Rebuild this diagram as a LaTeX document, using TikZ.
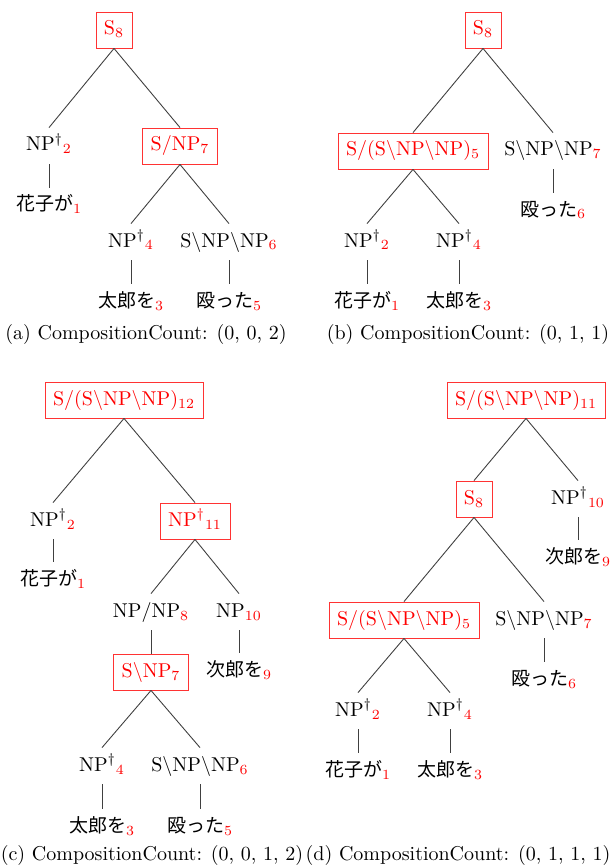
\documentclass[tikz,border=0pt]{standalone}
\usepackage{fontspec}
\newfontfamily\jpfont{Noto Sans CJK JP}[Scale=0.95]
\newcommand\rsub[1]{$_{\textcolor{red}{#1}}$}
\newcommand\npdag{NP$^{\dagger}{}$}
\newcommand\bsl{$\backslash$}
\begin{document}
\begin{tikzpicture}[x=0.5pt,y=-0.5pt,
  nd/.style={inner sep=4pt, text height=7.5pt, text depth=2.5pt},
  bx/.style={nd, draw=red!80, line width=0.45pt, text=red},
  jp/.style={nd, font=\jpfont},
  ed/.style={draw=black!75, line width=0.45pt},
  captxt/.style={inner sep=0pt}]
\useasboundingbox (0,0) rectangle (611,866);
% ---------------- (a)
\node[bx] (a0) at (114,30) {S\rsub{8}};
\node[nd] (a1) at (49,146) {\npdag\rsub{2}};
\node[jp] (a2) at (49,206) {花子が\rsub{1}};
\node[bx] (a3) at (180,146) {S/NP\rsub{7}};
\node[nd] (a4) at (131,242) {\npdag\rsub{4}};
\node[jp] (a5) at (131,302) {太郎を\rsub{3}};
\node[nd] (a6) at (229,242) {S\bsl NP\bsl NP\rsub{6}};
\node[jp] (a7) at (229,302) {殴った\rsub{5}};
\node[captxt] (ac) at (146,334) {(a) CompositionCount: (0, 0, 2)};
\draw[ed] (a0.south) -- (a1.north);
\draw[ed] (a0.south) -- (a3.north);
\draw[ed] (a1.south) -- (a2.north);
\draw[ed] (a3.south) -- (a4.north);
\draw[ed] (a3.south) -- (a6.north);
\draw[ed] (a4.south) -- (a5.north);
\draw[ed] (a6.south) -- (a7.north);
% ---------------- (b)
\node[bx] (b0) at (483,30) {S\rsub{8}};
\node[bx] (b1) at (413,151) {S/(S\bsl NP\bsl NP)\rsub{5}};
\node[nd] (b2) at (553,151) {S\bsl NP\bsl NP\rsub{7}};
\node[jp] (b3) at (553,211) {殴った\rsub{6}};
\node[nd] (b4) at (367,242) {\npdag\rsub{2}};
\node[jp] (b5) at (367,302) {花子が\rsub{1}};
\node[nd] (b6) at (459,242) {\npdag\rsub{4}};
\node[jp] (b7) at (459,302) {太郎を\rsub{3}};
\node[captxt] (bc) at (468,334) {(b) CompositionCount: (0, 1, 1)};
\draw[ed] (b0.south) -- (b1.north);
\draw[ed] (b0.south) -- (b2.north);
\draw[ed] (b2.south) -- (b3.north);
\draw[ed] (b1.south) -- (b4.north);
\draw[ed] (b1.south) -- (b6.north);
\draw[ed] (b4.south) -- (b5.north);
\draw[ed] (b6.south) -- (b7.north);
% ---------------- (c)
\node[bx] (c0) at (124,400) {S/(S\bsl NP\bsl NP)\rsub{12}};
\node[nd] (c1) at (53,521) {\npdag\rsub{2}};
\node[jp] (c2) at (53,580) {花子が\rsub{1}};
\node[bx] (c3) at (195,521) {\npdag\rsub{11}};
\node[nd] (c4) at (151,612) {NP/NP\rsub{8}};
\node[bx] (c5) at (151,672) {S\bsl NP\rsub{7}};
\node[nd] (c6) at (102,766) {\npdag\rsub{4}};
\node[jp] (c7) at (102,827) {太郎を\rsub{3}};
\node[nd] (c8) at (200,766) {S\bsl NP\bsl NP\rsub{6}};
\node[jp] (c9) at (200,827) {殴った\rsub{5}};
\node[nd] (c10) at (239,612) {NP\rsub{10}};
\node[jp] (c11) at (239,671) {次郎を\rsub{9}};
\node[captxt] (cc) at (152,855) {(c) CompositionCount: (0, 0, 1, 2)};
\draw[ed] (c0.south) -- (c1.north);
\draw[ed] (c0.south) -- (c3.north);
\draw[ed] (c1.south) -- (c2.north);
\draw[ed] (c3.south) -- (c4.north);
\draw[ed] (c3.south) -- (c10.north);
\draw[ed] (c4.south) -- (c5.north);
\draw[ed] (c10.south) -- (c11.north);
\draw[ed] (c5.south) -- (c6.north);
\draw[ed] (c5.south) -- (c8.north);
\draw[ed] (c6.south) -- (c7.north);
\draw[ed] (c8.south) -- (c9.north);
% ---------------- (d)
\node[bx] (d0) at (526,400) {S/(S\bsl NP\bsl NP)\rsub{11}};
\node[bx] (d1) at (474,499) {S\rsub{8}};
\node[nd] (d2) at (578,499) {\npdag\rsub{10}};
\node[jp] (d3) at (578,558) {次郎を\rsub{9}};
\node[bx] (d4) at (404,620) {S/(S\bsl NP\bsl NP)\rsub{5}};
\node[nd] (d5) at (544,620) {S\bsl NP\bsl NP\rsub{7}};
\node[jp] (d6) at (544,680) {殴った\rsub{6}};
\node[nd] (d7) at (358,711) {\npdag\rsub{2}};
\node[jp] (d8) at (358,771) {花子が\rsub{1}};
\node[nd] (d9) at (450,711) {\npdag\rsub{4}};
\node[jp] (d10) at (450,771) {太郎を\rsub{3}};
\node[captxt] (dc) at (458,855) {(d) CompositionCount: (0, 1, 1, 1)};
\draw[ed] (d0.south) -- (d1.north);
\draw[ed] (d0.south) -- (d2.north);
\draw[ed] (d2.south) -- (d3.north);
\draw[ed] (d1.south) -- (d4.north);
\draw[ed] (d1.south) -- (d5.north);
\draw[ed] (d5.south) -- (d6.north);
\draw[ed] (d4.south) -- (d7.north);
\draw[ed] (d4.south) -- (d9.north);
\draw[ed] (d7.south) -- (d8.north);
\draw[ed] (d9.south) -- (d10.north);
\end{tikzpicture}
\end{document}
